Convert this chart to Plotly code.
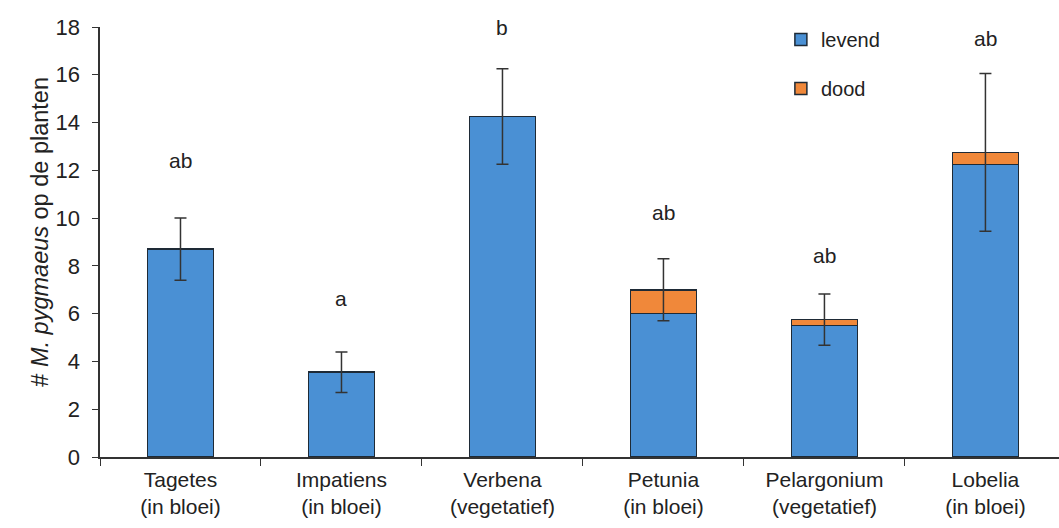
import plotly.graph_objects as go

categories = ["Tagetes<br>(in bloei)", "Impatiens<br>(in bloei)", "Verbena<br>(vegetatief)",
              "Petunia<br>(in bloei)", "Pelargonium<br>(vegetatief)", "Lobelia<br>(in bloei)"]
levend = [8.7, 3.55, 14.25, 6.0, 5.5, 12.25]
dood = [0.0, 0.0, 0.0, 1.0, 0.25, 0.5]
error = [1.3, 0.85, 2.0, 1.3, 1.07, 3.3]
letters = ["ab", "a", "b", "ab", "ab", "ab"]
letter_y = [12.4, 6.65, 18.0, 10.25, 8.45, 17.5]
y_title = "# <i>M. pygmaeus</i> op de planten"

totals = [l + d for l, d in zip(levend, dood)]
dood_plot = [d if d > 0 else None for d in dood]

FONT = "Liberation Sans, Arial, sans-serif"
BLUE = "#4a90d4"
ORANGE = "#f0883a"
EDGE = "#1e2a36"
TXT = "#222222"

fig = go.Figure()
fig.add_trace(go.Bar(x=categories, y=levend, name="levend", marker_color=BLUE,
                     marker_line=dict(color=EDGE, width=1.5), width=0.41,
                     legendgroup="a"))
fig.add_trace(go.Bar(x=categories, y=dood_plot, name="dood", marker_color=ORANGE,
                     marker_line=dict(color=EDGE, width=1.5), width=0.41,
                     legendgroup="b"))
fig.add_trace(go.Scatter(x=categories, y=totals, mode="markers",
                         marker=dict(size=0.1, color="rgba(0,0,0,0)"),
                         error_y=dict(type="data", array=error, visible=True,
                                      color="#333333", thickness=1.5, width=6),
                         showlegend=False, hoverinfo="skip"))

for c, t, yv in zip(categories, letters, letter_y):
    fig.add_annotation(x=c, y=yv, text=t, showarrow=False,
                       font=dict(family=FONT, size=21, color=TXT),
                       xanchor="center", yanchor="middle")

fig.add_annotation(xref="paper", yref="paper", x=-0.0626, y=0.524, text=y_title,
                   textangle=-90, showarrow=False, xanchor="center", yanchor="middle",
                   font=dict(family=FONT, size=23.5, color=TXT))

fig.update_layout(
    width=1059, height=528,
    margin=dict(l=100, r=0, t=27, b=71),
    barmode="stack",
    plot_bgcolor="white", paper_bgcolor="white",
    font=dict(family=FONT, size=20, color=TXT),
    legend=dict(x=0.71, y=1.016, xanchor="left", yanchor="top",
                traceorder="grouped", tracegroupgap=20,
                font=dict(family=FONT, size=20, color=TXT),
                bgcolor="rgba(0,0,0,0)", itemwidth=30),
    xaxis=dict(range=[-0.5, 5.457], showline=True, linecolor="#333333", linewidth=1.5,
               ticks="outside", tickson="boundaries", ticklen=7, tickcolor="#333333",
               tickfont=dict(family=FONT, size=21, color=TXT), showgrid=False,
               automargin=False, ticklabelstandoff=3),
    yaxis=dict(range=[0, 18], dtick=2, showline=True, linecolor="#333333", linewidth=1.5,
               ticks="outside", ticklen=6, tickcolor="#333333", showgrid=False,
               zeroline=False, tickfont=dict(family=FONT, size=22, color=TXT),
               automargin=False, ticksuffix="\u00a0\u200a"),
)

fig.write_html("out.html", config={"displayModeBar": False},
               post_script="document.body.style.margin='0';document.body.style.overflow='hidden';")
